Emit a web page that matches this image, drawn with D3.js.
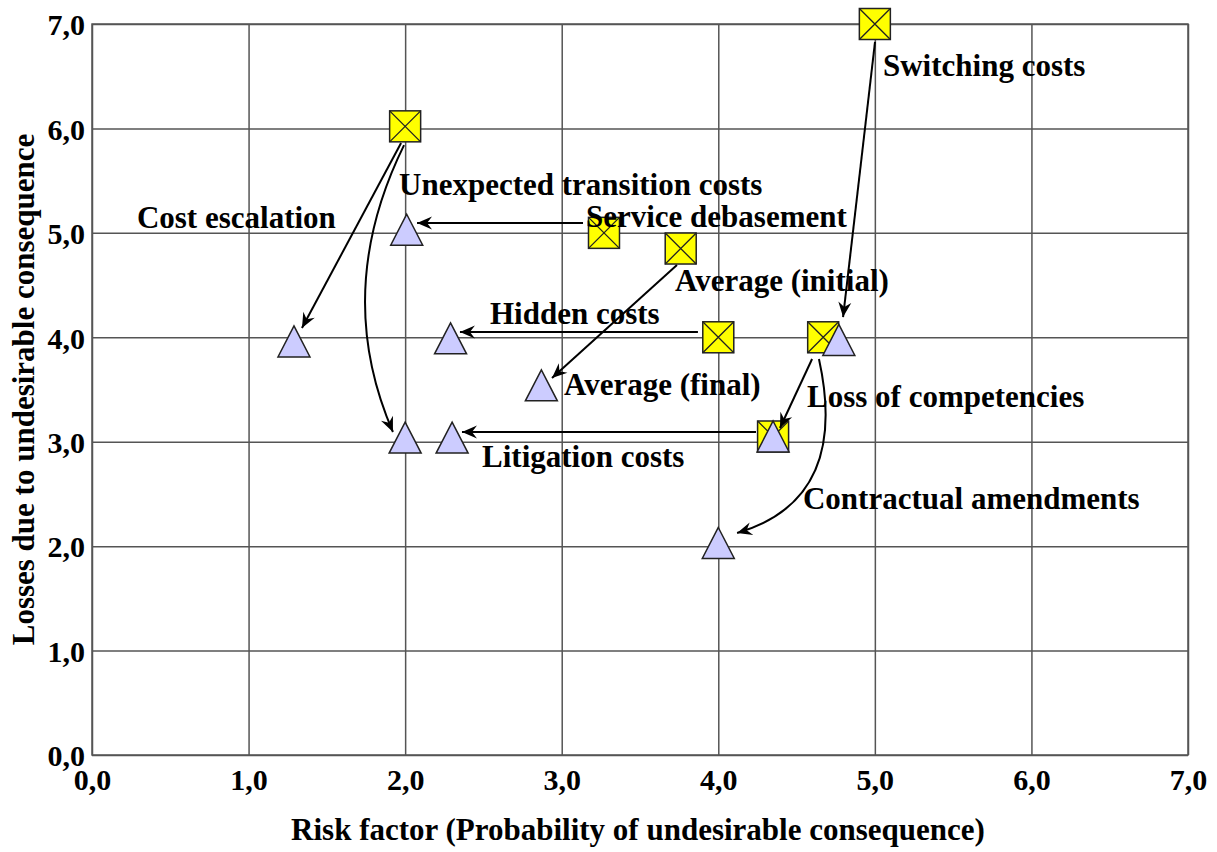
<!DOCTYPE html>
<html><head><meta charset="utf-8">
<script src="https://cdn.jsdelivr.net/npm/d3@7"></script>
<style>html,body{margin:0;padding:0;background:#fff;}</style>
</head><body>
<script>
// ---- data ----
const xTicks = [0,1,2,3,4,5,6,7];
const yTicks = [0,1,2,3,4,5,6,7];
// initial positions (yellow squares)
const initialX = [2.0, 5.0, 3.27, 3.76, 4.0, 4.67, 4.35];
const initialY = [6.02, 7.0, 5.0, 4.85, 4.0, 4.0, 3.05];
// final positions (lavender triangles)
const finalX = [1.29, 2.01, 2.29, 2.87, 2.0, 2.3, 4.35, 4.77, 4.0];
const finalY = [3.96, 5.03, 3.99, 3.54, 3.04, 3.04, 3.05, 3.975, 2.03];
// arrows (data units): start, end, optional curve control
const arrowX1 = [1.974, 1.993, 3.136, 3.736, 3.870, 5.001, 4.599, 4.643, 4.241];
const arrowY1 = [5.86, 5.84, 5.094, 4.692, 4.051, 6.828, 3.792, 3.792, 3.093];
const arrowX2 = [1.341, 1.922, 2.076, 2.938, 2.350, 4.797, 4.394, 4.120, 2.363];
const arrowY2 = [4.089, 3.093, 5.094, 3.610, 4.051, 4.194, 3.131, 2.126, 3.093];
const ctrlX = [null, 1.533, null, null, null, null, null, 4.841, null];
const ctrlY = [null, 4.438, null, null, null, null, null, 2.442, null];
// labels
const labelText = ["Switching costs","Unexpected transition costs","Cost escalation","Service debasement",
  "Average (initial)","Hidden costs","Average (final)","Loss of competencies","Litigation costs","Contractual amendments"];
const labelX = [5.052, 1.961, 0.287, 3.155, 3.724, 2.542, 3.015, 4.567, 2.491, 4.541];
const labelY = [6.502, 5.362, 5.046, 5.056, 4.443, 4.127, 3.447, 3.332, 2.758, 2.356];

const xTitle = "Risk factor (Probability of undesirable consequence)";
const yTitle = "Losses due to undesirable consequence";

// ---- drawing ----
const W = 1217, H = 852;
const L = 92, R = 1188, T = 24, B = 755;
const FONT = "'Liberation Serif','Times New Roman',serif";
const svg = d3.select("body").append("svg").attr("width", W).attr("height", H)
  .style("font-family", FONT);
svg.append("rect").attr("width", W).attr("height", H).attr("fill", "#fff");

const x = d3.scaleLinear().domain([0,7]).range([L,R]);
const y = d3.scaleLinear().domain([0,7]).range([B,T]);
const loc = d3.formatLocale({decimal: ",", thousands: ".", grouping: [3], currency: ["", ""]});
const fmt = loc.format(".1f");

// grid via axes
const gx = svg.append("g").attr("transform", `translate(0,${B})`)
  .call(d3.axisBottom(x).tickValues(xTicks).tickSize(-(B-T)).tickFormat(fmt).tickPadding(14));
const gy = svg.append("g").attr("transform", `translate(${L},0)`)
  .call(d3.axisLeft(y).tickValues(yTicks).tickSize(-(R-L)).tickFormat(fmt).tickPadding(7));
[gx, gy].forEach(g => {
  g.select(".domain").remove();
  g.selectAll(".tick line").attr("stroke", "#555").attr("stroke-width", 1.5);
  g.selectAll(".tick text").attr("fill", "#000").style("font-family", FONT)
    .style("font-size", "30px").style("font-weight", "bold");
});
gx.selectAll(".tick text").attr("dy", "0.71em");
gy.selectAll(".tick text").attr("dy", "0.36em");
// frame
svg.append("rect").attr("x", L).attr("y", T).attr("width", R-L).attr("height", B-T)
  .attr("fill", "none").attr("stroke", "#555").attr("stroke-width", 1.5);

// squares
const S = 31;
const sq = svg.append("g").selectAll("g").data(initialX.map((d,i)=>({x:d,y:initialY[i]}))).join("g")
  .attr("transform", d => `translate(${x(d.x)},${y(d.y)})`);
sq.append("rect").attr("x", -S/2).attr("y", -S/2).attr("width", S).attr("height", S)
  .attr("fill", "#ffff00").attr("stroke", "#222").attr("stroke-width", 1.5);
sq.append("path").attr("d", `M${-S/2},${-S/2}L${S/2},${S/2}M${S/2},${-S/2}L${-S/2},${S/2}`)
  .attr("stroke", "#222").attr("stroke-width", 1.3);

// triangles
const TW = 32, TH = 31;
svg.append("g").selectAll("path").data(finalX.map((d,i)=>({x:d,y:finalY[i]}))).join("path")
  .attr("transform", d => `translate(${x(d.x)},${y(d.y)})`)
  .attr("d", `M0,${-TH/2}L${TW/2},${TH/2}L${-TW/2},${TH/2}Z`)
  .attr("fill", "#ccccff").attr("stroke", "#222").attr("stroke-width", 1.5);

// labels
svg.append("g").selectAll("text").data(labelText).join("text")
  .attr("x", (d,i) => x(labelX[i])).attr("y", (d,i) => y(labelY[i]))
  .attr("font-size", 31).attr("font-weight", "bold").attr("fill", "#000")
  .text(d => d);

// arrows
const defs = svg.append("defs");
defs.append("marker").attr("id", "ah").attr("markerUnits", "userSpaceOnUse")
  .attr("viewBox", "-16 -8 18 16").attr("refX", 0).attr("refY", 0)
  .attr("markerWidth", 18).attr("markerHeight", 16).attr("orient", "auto")
  .append("path").attr("d", "M0,0L-15,-6.5L-10,0L-15,6.5Z").attr("fill", "#000");
svg.append("g").selectAll("path").data(arrowX1.map((d,i)=>i)).join("path")
  .attr("d", i => {
    const p = d3.path();
    p.moveTo(x(arrowX1[i]), y(arrowY1[i]));
    if (ctrlX[i] != null) p.quadraticCurveTo(x(ctrlX[i]), y(ctrlY[i]), x(arrowX2[i]), y(arrowY2[i]));
    else p.lineTo(x(arrowX2[i]), y(arrowY2[i]));
    return p.toString();
  })
  .attr("fill", "none").attr("stroke", "#000").attr("stroke-width", 2)
  .attr("marker-end", "url(#ah)");

// axis titles
svg.append("text").attr("x", (L+R)/2 - 2).attr("y", 840).attr("text-anchor", "middle")
  .attr("font-size", 31).attr("font-weight", "bold").text(xTitle);
svg.append("text").attr("transform", `translate(34,${(T+B)/2}) rotate(-90)`).attr("text-anchor", "middle")
  .attr("font-size", 31).attr("font-weight", "bold").text(yTitle);
</script>
</body></html>
